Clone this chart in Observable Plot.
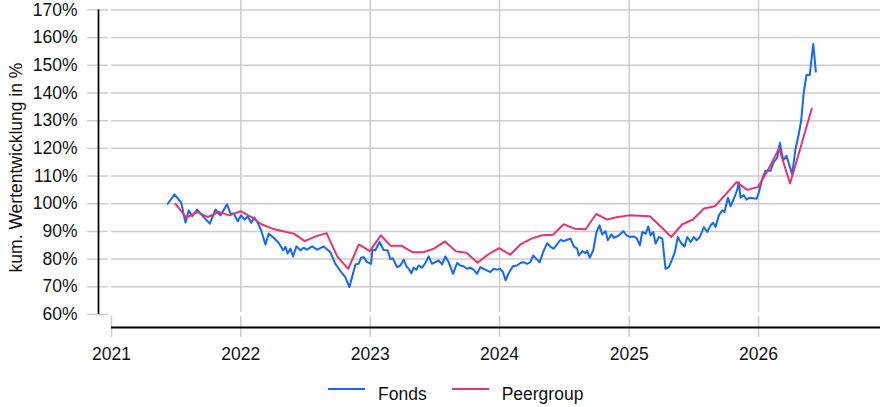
<!DOCTYPE html>
<html>
<head>
<meta charset="utf-8">
<script src="https://cdn.jsdelivr.net/npm/d3@7"></script>
<script src="https://cdn.jsdelivr.net/npm/@observablehq/plot@0.6"></script>
<style>
  html, body { margin: 0; padding: 0; background: #fff; }
  #wrap { position: relative; width: 880px; height: 407px; font-family: "Liberation Sans", Arial, sans-serif; }
  #legend { position: absolute; top: 384px; left: 328px; display: flex; align-items: center; font-size: 17.5px; line-height: 20px; color: #111; }
  .sw { width: 37px; height: 0; border-top: 2.5px solid; margin-right: 13px; transform: translateY(-5px); }
  .item { display: flex; align-items: center; margin-right: 25px; }
</style>
</head>
<body>
<div id="wrap"><div id="chart"></div><div id="legend"></div></div>
<script>
// ---- data ----
const seriesNames = ["Fonds", "Peergroup"];
const seriesColors = ["#1267ff", "#e8336c"];

// Fonds: time as decimal year, value in %
const fondsT = [
2021.435,2021.487,2021.539,2021.572,2021.597,2021.624,2021.662,2021.701,2021.760,2021.804,
2021.842,2021.894,2021.920,2021.945,2021.976,2022.002,2022.028,2022.053,2022.080,2022.105,
2022.131,2022.157,2022.190,2022.216,2022.254,2022.293,2022.327,2022.345,2022.362,2022.383,
2022.404,2022.430,2022.461,2022.486,2022.512,2022.551,2022.590,2022.641,2022.692,2022.731,
2022.770,2022.808,2022.839,2022.860,2022.886,2022.911,2022.930,2022.950,2022.976,2023.007,
2023.017,2023.040,2023.073,2023.104,2023.135,2023.156,2023.175,2023.208,2023.233,2023.259,
2023.280,2023.298,2023.318,2023.336,2023.357,2023.375,2023.401,2023.427,2023.452,2023.478,
2023.504,2023.529,2023.556,2023.581,2023.607,2023.641,2023.672,2023.697,2023.723,2023.749,
2023.774,2023.800,2023.826,2023.852,2023.877,2023.903,2023.929,2023.954,2023.981,2024.006,
2024.027,2024.047,2024.070,2024.104,2024.135,2024.161,2024.186,2024.213,2024.238,2024.259,
2024.284,2024.310,2024.336,2024.367,2024.393,2024.418,2024.444,2024.470,2024.495,2024.522,
2024.547,2024.573,2024.599,2024.611,2024.638,2024.663,2024.676,2024.696,2024.723,2024.748,
2024.771,2024.792,2024.818,2024.835,2024.862,2024.882,2024.908,2024.928,2024.954,2024.980,
2025.005,2025.032,2025.057,2025.083,2025.101,2025.127,2025.148,2025.165,2025.186,2025.204,
2025.230,2025.256,2025.281,2025.307,2025.333,2025.353,2025.376,2025.403,2025.428,2025.449,
2025.475,2025.500,2025.521,2025.546,2025.577,2025.604,2025.629,2025.650,2025.668,2025.693,
2025.720,2025.737,2025.763,2025.784,2025.809,2025.835,2025.848,2025.861,2025.886,2025.907,
2025.933,2025.959,2025.985,2026.002,2026.029,2026.054,2026.093,2026.114,2026.145,2026.165,
2026.191,2026.216,2026.242,2026.260,2026.286,2026.311,2026.330,2026.350,2026.371,2026.396,
2026.423,2026.443
];
const fondsV = [
100.0,103.4,100.4,93.2,97.6,95.5,97.9,95.8,92.8,97.9,
95.8,99.8,96.4,96.5,93.7,95.8,94.3,95.4,93.1,95.0,
93.1,90.4,85.3,89.2,87.7,85.8,83.2,84.4,82.0,83.8,
81.0,84.6,83.2,84.1,83.4,84.6,83.4,84.6,82.5,78.3,
75.7,73.5,69.9,73.5,78.1,78.3,80.5,80.7,78.9,78.3,
83.4,83.2,86.2,83.3,83.2,80.0,80.3,77.1,77.7,79.8,
77.4,76.5,74.9,76.9,76.2,77.7,76.9,78.6,81.0,78.3,
78.9,79.5,78.1,81.0,78.9,74.7,78.6,77.7,77.4,76.5,
76.9,76.2,74.7,77.1,76.5,75.9,75.3,76.5,76.2,76.5,
75.3,72.3,74.9,77.4,77.7,78.6,78.9,78.3,78.9,81.3,
80.1,78.9,82.5,85.8,84.4,83.8,85.3,87.0,86.5,87.0,
87.4,84.6,83.8,81.3,82.9,82.2,83.0,80.5,83.2,89.8,
92.2,88.9,90.1,86.8,88.9,87.7,88.2,88.9,90.1,88.6,
88.0,88.2,87.7,85.0,89.8,89.2,91.8,88.6,89.8,85.6,
88.0,87.4,76.5,77.1,80.1,82.5,88.0,85.6,84.6,88.0,
86.2,88.0,86.8,88.0,91.6,89.8,92.2,93.1,91.6,95.8,
97.6,97.0,102.2,99.1,101.8,105.0,107.8,102.2,103.1,101.5,
102.2,102.0,101.8,104.0,109.1,111.9,111.9,114.7,116.7,122.0,
115.7,117.3,113.3,110.6,119.8,125.1,130.2,140.4,146.5,146.5,
157.7,147.7
];

// Peergroup: monthly (month-end) values in %
const peerMonths = [
"2021-06","2021-07","2021-08","2021-09","2021-10","2021-11","2021-12",
"2022-01","2022-02","2022-03","2022-04","2022-05","2022-06","2022-07","2022-08","2022-09","2022-10","2022-11","2022-12",
"2023-01","2023-02","2023-03","2023-04","2023-05","2023-06","2023-07","2023-08","2023-09","2023-10","2023-11","2023-12",
"2024-01","2024-02","2024-03","2024-04","2024-05","2024-06","2024-07","2024-08","2024-09","2024-10","2024-11","2024-12",
"2025-01","2025-02","2025-03","2025-04","2025-05","2025-06","2025-07","2025-08","2025-09","2025-10","2025-11","2025-12",
"2026-01","2026-02","2026-03","2026-04","2026-05"
];
const peerV = [
100.0,95.0,97.0,95.2,97.0,95.8,97.3,
95.2,92.6,91.0,90.1,89.2,86.5,88.2,89.4,81.0,76.5,85.3,82.9,
88.6,84.8,84.8,82.5,82.5,83.8,86.4,82.8,82.3,78.7,81.7,84.0,
81.6,85.3,87.4,88.6,88.8,92.6,91.0,90.8,96.3,94.3,95.2,95.8,
95.7,95.5,91.8,88.0,92.6,94.3,98.3,99.1,103.4,107.8,105.0,106.1,
113.0,120.0,107.3,120.5,134.3
];

const yTicks = [60,70,80,90,100,110,120,130,140,150,160,170];
const xTickYears = [2021,2022,2023,2024,2025,2026];
const yTitle = "kum. Wertentwicklung in %";

// ---- build ----
function yearToDate(t) {
  const y = Math.floor(t);
  const a = Date.UTC(y, 0, 1), b = Date.UTC(y + 1, 0, 1);
  return new Date(a + (t - y) * (b - a));
}
const parseMonth = d3.utcParse("%Y-%m");
const fonds = fondsT.map((t, i) => ({date: yearToDate(t), value: fondsV[i], series: seriesNames[0]}));
const peer = peerMonths.map((m, i) => ({date: d3.utcDay.offset(d3.utcMonth.offset(parseMonth(m), 1), -1), value: peerV[i], series: seriesNames[1]}));
const xTicks = xTickYears.map(y => new Date(Date.UTC(y, 0, 1)));
const xStart = xTicks[0];
const xEnd = yearToDate(2026.943);

const H = 370, W = 880;
const grid = "#cccccc";
const fontFamily = '"Liberation Sans", Arial, sans-serif';

const chart = Plot.plot({
  width: W,
  height: H,
  marginLeft: 111,
  marginRight: 0,
  marginTop: 0,
  marginBottom: H - 314,
  style: {fontFamily, fontSize: "17.5px", color: "#111", background: "#fff", overflow: "visible"},
  x: {type: "utc", domain: [xStart, xEnd]},
  y: {domain: [60, 173.4]},
  marks: [
    Plot.gridY(yTicks.filter(d => d > 60), {stroke: grid, strokeOpacity: 1, strokeWidth: 1.5}),
    Plot.gridX(xTicks.slice(1), {stroke: grid, strokeOpacity: 1, strokeWidth: 1.5, insetBottom: 2}),
    // y ticks (grey) and labels
    Plot.axisY(yTicks, {tickSize: 21, dx: -3, stroke: grid, strokeWidth: 1.5, tickFormat: () => "", label: null}),
    Plot.axisY(yTicks, {tickSize: 0, tickPadding: 34, tickFormat: d => d + "%", label: null, fill: "#111"}),
    // x ticks (grey) and labels
    Plot.axisX(xTicks, {tickSize: 21, dy: 2, stroke: grid, strokeWidth: 1.5, tickFormat: () => "", label: null}),
    Plot.axisX(xTicks, {tickSize: 0, tickPadding: 33, tickFormat: d3.utcFormat("%Y"), label: null, fill: "#111"}),
    // axis lines
    Plot.ruleX([xStart], {y1: 60, y2: 170, dx: -13, stroke: "#000", strokeWidth: 1.7}),
    Plot.ruleY([60], {x1: xStart, x2: xEnd, dy: 13, stroke: "#000", strokeWidth: 1.8}),
    // y title
    Plot.text([yTitle], {frameAnchor: "left", textAnchor: "middle", lineAnchor: "middle", rotate: -90, dx: -95, dy: 10, fontSize: 17.5, fill: "#111"}),
    // series
    Plot.line(fonds, {x: "date", y: "value", stroke: seriesColors[0], strokeWidth: 2, strokeLinejoin: "round"}),
    Plot.line(peer, {x: "date", y: "value", stroke: seriesColors[1], strokeWidth: 2, strokeLinejoin: "round"})
  ]
});
document.getElementById("chart").appendChild(chart);

const legend = document.getElementById("legend");
seriesNames.forEach((name, i) => {
  const item = document.createElement("div");
  item.className = "item";
  const sw = document.createElement("div");
  sw.className = "sw";
  sw.style.borderTopColor = seriesColors[i];
  const tx = document.createElement("span");
  tx.textContent = name;
  item.appendChild(sw);
  item.appendChild(tx);
  legend.appendChild(item);
});
</script>
</body>
</html>
